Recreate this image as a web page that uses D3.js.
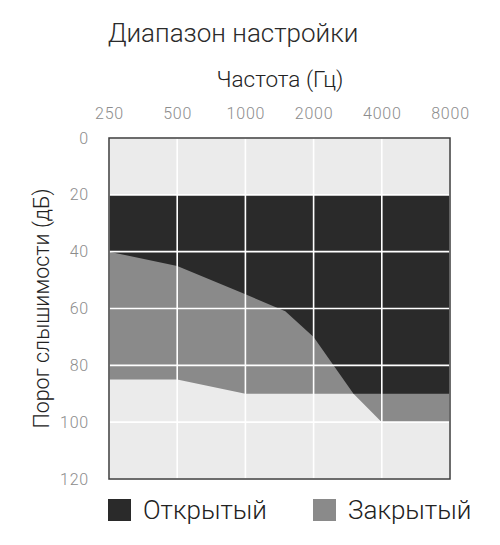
<!DOCTYPE html>
<html>
<head>
<meta charset="utf-8">
<script src="https://cdn.jsdelivr.net/npm/d3@7"></script>
<style>
  body { margin: 0; background: #fff; }
  text { font-family: Roboto, "Open Sans", sans-serif; font-weight: 300; }
</style>
</head>
<body>
<div id="chart"></div>
<script>
// frequency ticks (Hz) and threshold ticks (dB)
const freqTicks = [250, 500, 1000, 2000, 4000, 8000];
const dbTicks = [0, 20, 40, 60, 80, 100, 120];

// open fitting range: upper and lower bound
const openFreq = [250, 500, 1000, 1500, 2000, 3000, 4000, 8000];
const openUpper = [20, 20, 20, 20, 20, 20, 20, 20];
const openLower = [40, 45, 55, 61, 70, 90, 90, 90];

// closed fitting range: lower bound (upper bound is same 20 dB)
const closedFreq = [250, 500, 1000, 2000, 3000, 4000, 8000];
const closedUpper = [20, 20, 20, 20, 20, 20, 20];
const closedLower = [85, 85, 90, 90, 90, 100, 100];

const legendLabels = ["Открытый", "Закрытый"];

const width = 500, height = 545;
const margin = {left: 109, right: 50, top: 138, bottom: 66};

const svg = d3.select("#chart").append("svg")
    .attr("width", width)
    .attr("height", height);

const x = d3.scaleLog()
    .domain([250, 8000])
    .range([margin.left, width - margin.right]);

const y = d3.scaleLinear()
    .domain([0, 120])
    .range([margin.top, height - margin.bottom]);

const colOpen = "#2a2a2a";
const colClosed = "#8a8a8a";

// background
svg.append("rect")
    .attr("x", x(250)).attr("y", y(0))
    .attr("width", x(8000) - x(250))
    .attr("height", y(120) - y(0))
    .attr("fill", "#ebebeb");

const area = (fr, up, lo) => d3.area()
    .x((d, i) => x(fr[i]))
    .y0((d, i) => y(lo[i]))
    .y1((d, i) => y(up[i]))(fr);

svg.append("path")
    .attr("d", area(closedFreq, closedUpper, closedLower))
    .attr("fill", colClosed);

svg.append("path")
    .attr("d", area(openFreq, openUpper, openLower))
    .attr("fill", colOpen);

// grid
svg.append("g")
    .selectAll("line")
    .data(freqTicks)
    .enter().append("line")
    .attr("x1", d => x(d)).attr("x2", d => x(d))
    .attr("y1", y(0)).attr("y2", y(120))
    .attr("stroke", "#fff")
    .attr("stroke-width", 1.6);

svg.append("g")
    .selectAll("line")
    .data(dbTicks)
    .enter().append("line")
    .attr("x1", x(250)).attr("x2", x(8000))
    .attr("y1", d => y(d)).attr("y2", d => y(d))
    .attr("stroke", "#fff")
    .attr("stroke-width", 1.6);

// frame
svg.append("rect")
    .attr("x", x(250)).attr("y", y(0))
    .attr("width", x(8000) - x(250))
    .attr("height", y(120) - y(0))
    .attr("fill", "none")
    .attr("stroke", "#3c3c3c")
    .attr("stroke-width", 1.5);

// axes
const xAxis = svg.append("g")
    .attr("transform", `translate(0,${y(0) - 19})`)
    .call(d3.axisTop(x).tickValues(freqTicks).tickFormat(d3.format("d")).tickSize(0).tickPadding(0));

const yAxis = svg.append("g")
    .attr("transform", `translate(${x(250) - 20},0)`)
    .call(d3.axisLeft(y).tickValues(dbTicks).tickSize(0).tickPadding(0));

[xAxis, yAxis].forEach(g => {
    g.select(".domain").remove();
    g.selectAll("text")
        .attr("fill", "#8c8c8c")
        .style("font-size", "16px")
        .style("letter-spacing", "0.8px")
        .style("font-family", "Roboto, sans-serif")
        .style("font-weight", 300);
});
xAxis.selectAll("text").attr("dy", 0);

// titles
svg.append("text")
    .attr("x", 233).attr("y", 42)
    .attr("text-anchor", "middle")
    .attr("fill", "#2b2b2b")
    .style("font-size", "26px")
    .text("Диапазон настройки");

svg.append("text")
    .attr("x", 280).attr("y", 87)
    .attr("text-anchor", "middle")
    .attr("fill", "#222")
    .style("font-size", "22.5px")
    .text("Частота (Гц)");

svg.append("text")
    .attr("transform", `translate(49,${y(60)}) rotate(-90)`)
    .attr("text-anchor", "middle")
    .attr("fill", "#222")
    .style("font-size", "21.5px")
    .text("Порог слышимости (дБ)");

// legend
const legend = svg.append("g")
    .selectAll("g")
    .data(legendLabels)
    .enter().append("g")
    .attr("transform", (d, i) => `translate(${108 + i * 205},499)`);

legend.append("rect")
    .attr("width", 23).attr("height", 22)
    .attr("fill", (d, i) => i === 0 ? colOpen : colClosed);

legend.append("text")
    .attr("x", 35).attr("y", 20)
    .attr("fill", "#222")
    .style("font-size", "26px")
    .text(d => d);
</script>
</body>
</html>
